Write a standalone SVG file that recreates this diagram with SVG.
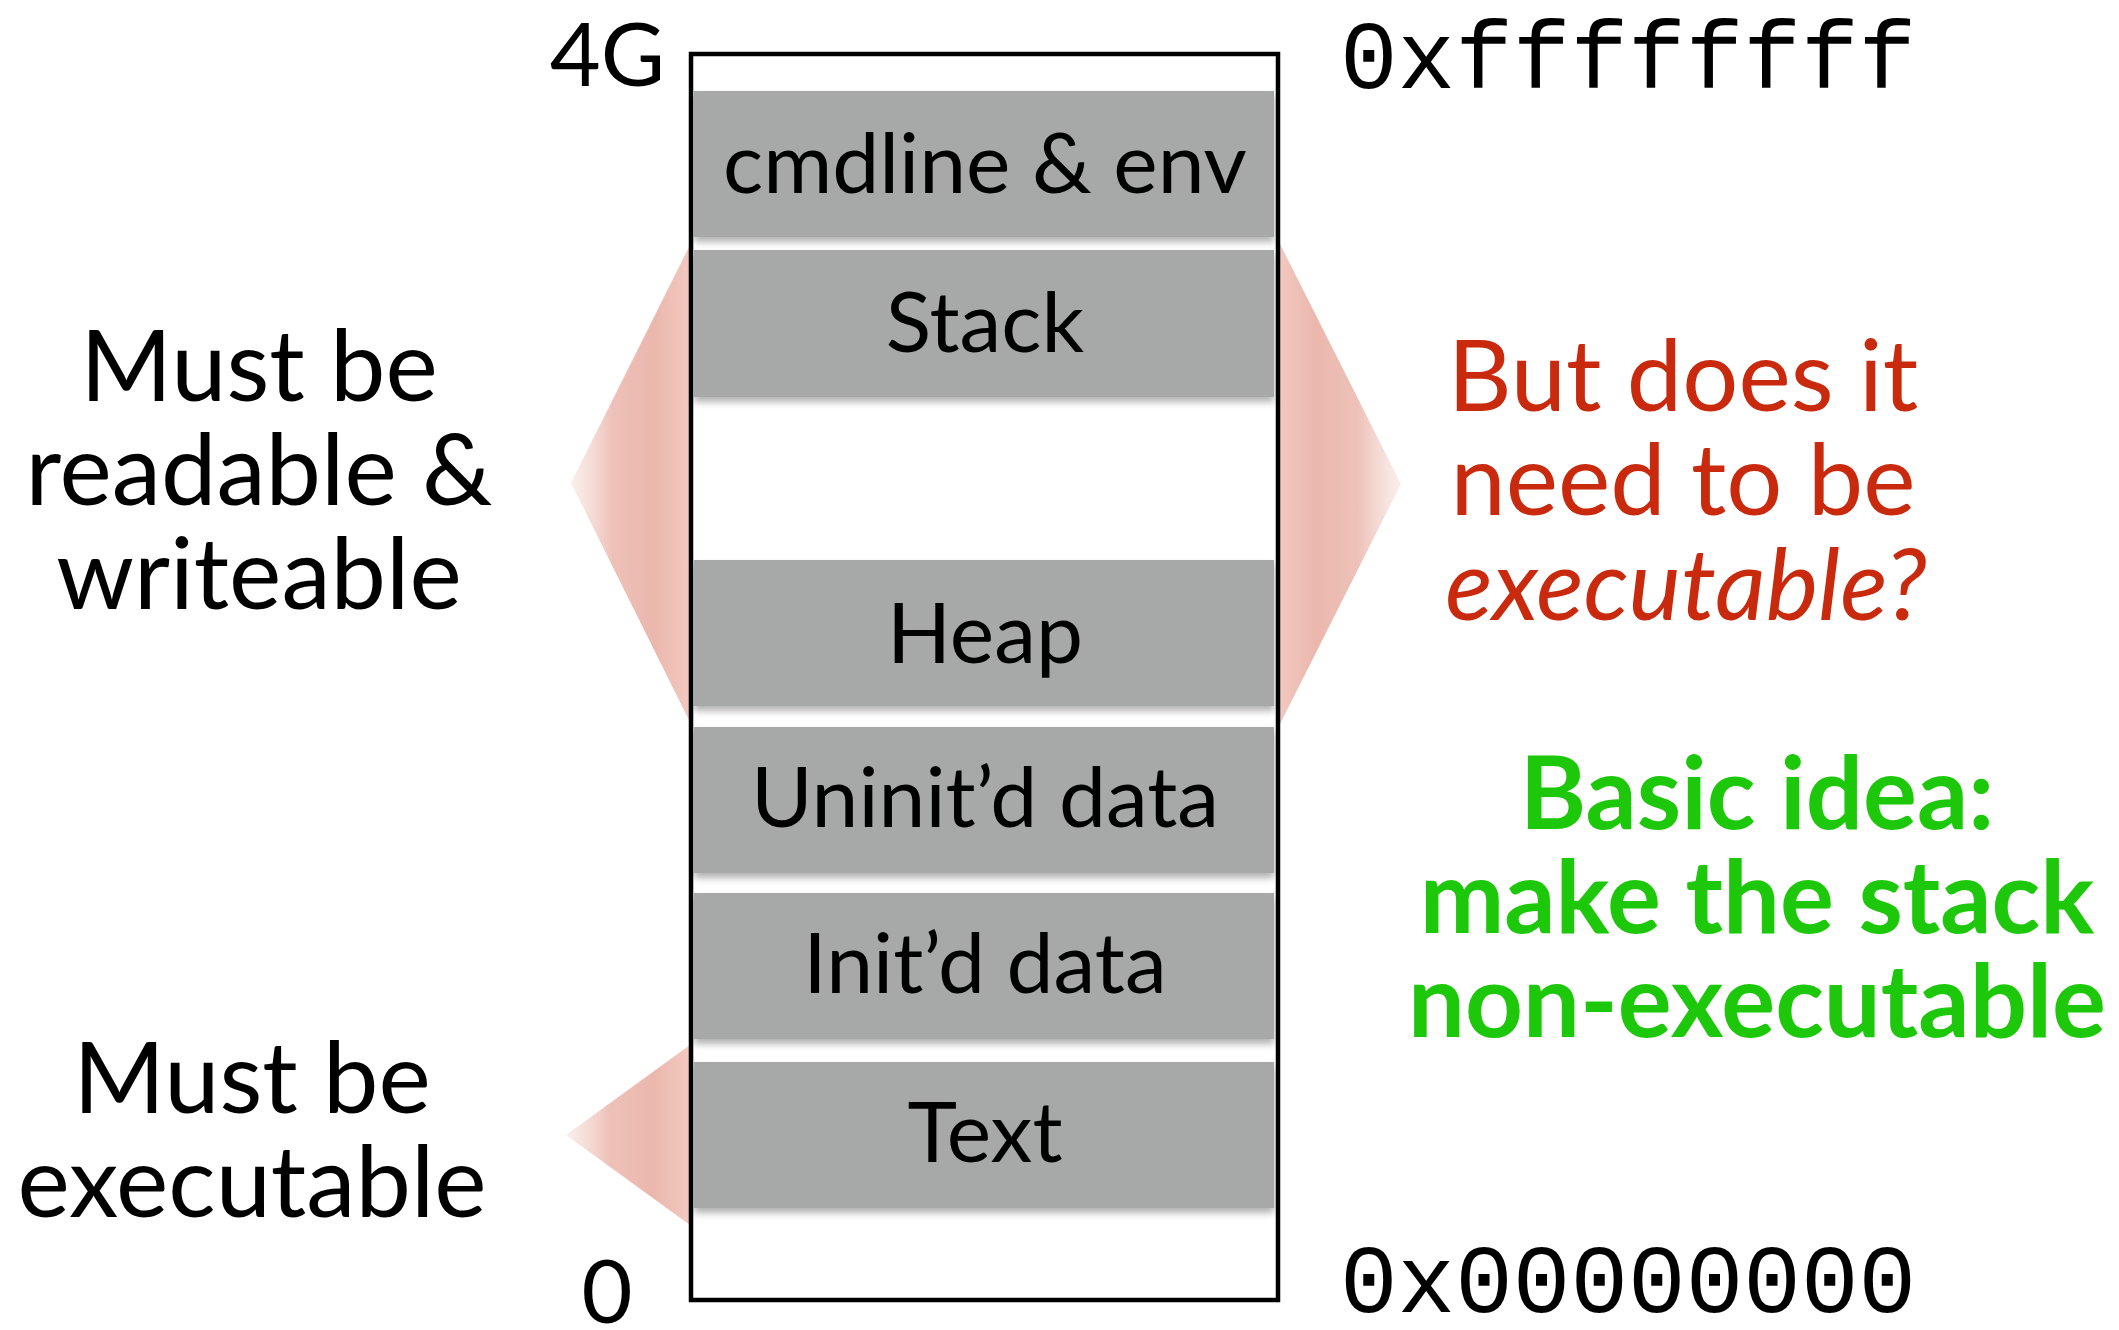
<svg xmlns="http://www.w3.org/2000/svg" width="2119" height="1330" viewBox="0 0 2119 1330">
  <defs>
    <style>
      .sans { font-family: Lato, "Noto Sans", "DejaVu Sans", sans-serif; }
      .mono { font-family: "Liberation Mono", "DejaVu Sans Mono", monospace; font-size: 96px; fill: #000; }
      .seg rect { fill: #a6a9a7; filter: url(#shadow); }
      .seg text { font-family: Lato, "Noto Sans", sans-serif; font-size: 84px; fill: #000; text-anchor: middle; }
      .note { font-family: Lato, "Noto Sans", sans-serif; font-size: 99px; text-anchor: middle; }
      .idea { font-size: 101px; font-weight: 700; }
    </style>
    <!-- soft shading under each memory segment -->
    <filter id="shadow" x="-5%" y="-10%" width="110%" height="130%">
      <feDropShadow dx="0" dy="5" stdDeviation="3.5" flood-color="#000" flood-opacity="0.3"/>
    </filter>
    <!-- pink fans: pale at the tip, stronger near the address column -->
    <linearGradient id="fanLeft" x1="0" y1="0" x2="1" y2="0">
      <stop offset="0" stop-color="#f7e4df" stop-opacity="0.6"/>
      <stop offset="0.35" stop-color="#eec1b8"/>
      <stop offset="0.7" stop-color="#ebb7ad"/>
      <stop offset="1" stop-color="#f2c9c1"/>
    </linearGradient>
    <linearGradient id="fanRight" x1="1" y1="0" x2="0" y2="0">
      <stop offset="0" stop-color="#f7e4df" stop-opacity="0.6"/>
      <stop offset="0.35" stop-color="#eec1b8"/>
      <stop offset="0.7" stop-color="#ebb7ad"/>
      <stop offset="1" stop-color="#f2c9c1"/>
    </linearGradient>
  </defs>

  <rect width="2119" height="1330" fill="#fff"/>

  <!-- fans pointing from the labels to the regions they describe -->
  <g id="connectors">
    <polygon points="690,245 571,483 690,722" fill="url(#fanLeft)"/>
    <polygon points="1278,240 1401,484 1278,728" fill="url(#fanRight)"/>
    <polygon points="690,1045 566,1135 690,1225" fill="url(#fanLeft)"/>
  </g>

  <!-- address space column -->
  <g id="address-space">
    <rect x="691" y="54" width="587" height="1246" fill="none" stroke="#000" stroke-width="4.5"/>
  </g>

  <g id="seg-cmdline" class="seg">
    <rect x="694" y="91" width="580" height="146"/>
    <text x="985" y="193">cmdline &amp; env</text>
  </g>
  <g id="seg-stack" class="seg">
    <rect x="694" y="250" width="580" height="147"/>
    <text x="985" y="352">Stack</text>
  </g>
  <g id="seg-heap" class="seg">
    <rect x="694" y="560" width="580" height="146"/>
    <text x="985" y="663">Heap</text>
  </g>
  <g id="seg-uninit" class="seg">
    <rect x="694" y="727" width="580" height="146"/>
    <text x="985" y="827">Uninit’d data</text>
  </g>
  <g id="seg-init" class="seg">
    <rect x="694" y="893" width="580" height="146"/>
    <text x="985" y="993">Init’d data</text>
  </g>
  <g id="seg-text" class="seg">
    <rect x="694" y="1062" width="580" height="146"/>
    <text x="985" y="1162">Text</text>
  </g>

  <!-- bounds -->
  <g id="bound-top">
    <text class="sans" x="665" y="86" font-size="88" text-anchor="end">4G</text>
    <text class="mono" x="1340" y="88">0xffffffff</text>
  </g>
  <g id="bound-bottom">
    <text class="sans" x="607" y="1323" font-size="88" text-anchor="middle">0</text>
    <text class="mono" x="1340" y="1312">0x00000000</text>
  </g>

  <!-- annotations -->
  <g id="note-rw">
    <text class="note" x="259" y="401">Must be</text>
    <text class="note" x="259" y="505">readable &amp;</text>
    <text class="note" x="259" y="609">writeable</text>
  </g>
  <g id="note-exec">
    <text class="note" x="252" y="1113">Must be</text>
    <text class="note" x="252" y="1217">executable</text>
  </g>
  <g id="note-question" fill="#c9290c">
    <text class="note" x="1683" y="411" font-size="97">But does it</text>
    <text class="note" x="1683" y="515" font-size="97">need to be</text>
    <text class="note" x="1686" y="620" font-size="101" font-style="italic">executable?</text>
  </g>
  <g id="note-idea" fill="#1dc80a">
    <text class="note idea" x="1757" y="829">Basic idea:</text>
    <text class="note idea" x="1757" y="933">make the stack</text>
    <text class="note idea" x="1757" y="1037">non-executable</text>
  </g>
</svg>
